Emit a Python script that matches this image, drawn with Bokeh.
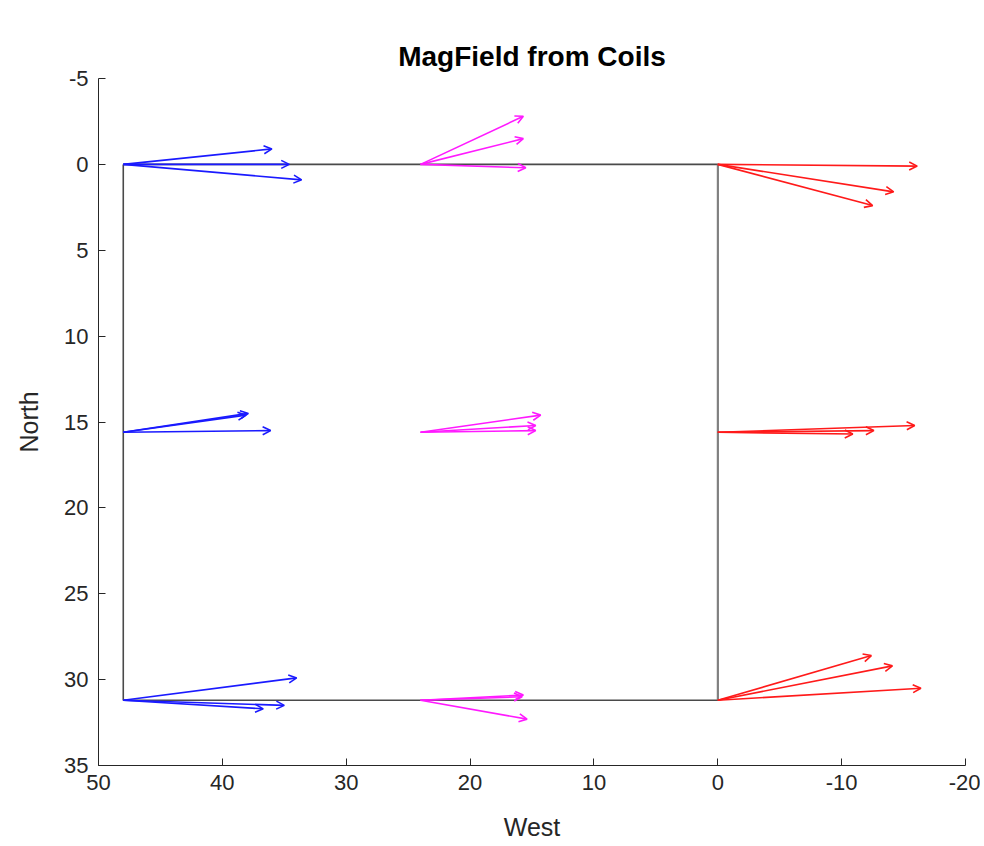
from bokeh.plotting import figure
from bokeh.models import Range1d, Arrow, OpenHead, ColumnDataSource, FixedTicker
from bokeh.embed import file_html
from bokeh.resources import INLINE

# ---- data ----
coil_x = [48, 24, 0]            # x of the three arrow origins per colour
row_y = [0, 15.6, 31.2]         # y of the three origin rows

blue_tip_x = [36.0, 34.6, 33.6, 37.9, 38.1, 36.1, 34.0, 35.0, 36.7]
blue_tip_y = [-0.9, 0.0, 0.9, 14.5, 14.6, 15.5, 29.9, 31.5, 31.7]
magenta_tip_x = [15.7, 15.7, 15.5, 14.3, 14.7, 14.7, 15.7, 15.8, 15.4]
magenta_tip_y = [-2.8, -1.5, 0.2, 14.6, 15.2, 15.5, 30.9, 31.0, 32.3]
red_tip_x = [-16.1, -14.2, -12.5, -15.9, -12.6, -10.9, -12.4, -14.1, -16.4]
red_tip_y = [0.1, 1.6, 2.4, 15.2, 15.5, 15.7, 28.6, 29.2, 30.5]

rect_x = [48, 0, 0, 48, 48]
rect_y = [0, 0, 31.2, 31.2, 0]
divider_x = [0, 0]
divider_y = [0, 31.2]

x_ticks = [50, 40, 30, 20, 10, 0, -10, -20]
y_ticks = [-5, 0, 5, 10, 15, 20, 25, 30, 35]

AXC = "#262626"
FONT = "Liberation Sans"

W, H = 980, 846
p = figure(width=W, height=H, output_backend="svg", toolbar_location=None,
           x_range=Range1d(50, -20), y_range=Range1d(35, -5),
           min_border_left=98, min_border_right=W - 965,
           min_border_top=78, min_border_bottom=H - 765,
           title="MagField from Coils")
p.title.align = "center"
p.title.text_font = FONT
p.title.text_font_size = "28px"
p.title.text_font_style = "bold"
p.title.text_color = "#000000"
p.title.standoff = 13

p.outline_line_color = None
p.xgrid.visible = False
p.ygrid.visible = False
p.background_fill_color = "white"
p.border_fill_color = "white"

for ax, ticks in ((p.xaxis[0], x_ticks), (p.yaxis[0], y_ticks)):
    ax.ticker = FixedTicker(ticks=ticks)
    ax.major_label_overrides = {t: str(t) for t in ticks}
    ax.major_tick_in = 7
    ax.major_tick_out = 0
    ax.minor_tick_line_color = None
    ax.axis_line_color = AXC
    ax.axis_line_width = 1
    ax.major_tick_line_color = AXC
    ax.major_label_text_font = FONT
    ax.major_label_text_font_size = "22px"
    ax.major_label_text_color = AXC
    ax.axis_label_text_font = FONT
    ax.axis_label_text_font_size = "25px"
    ax.axis_label_text_font_style = "normal"
    ax.axis_label_text_color = AXC

p.xaxis.axis_label = "West"
p.yaxis.axis_label = "North"
p.xaxis.major_label_standoff = 9
p.yaxis.major_label_standoff = 10
p.xaxis.axis_label_standoff = 20
p.yaxis.axis_label_standoff = 18

# rectangle and divider
p.line(rect_x, rect_y, line_color="#4a4a4a", line_width=1.6)
p.line(divider_x, divider_y, line_color="#808080", line_width=2)

def add_arrows(ox, tips_x, tips_y, color):
    n_per_row = len(tips_x) // len(row_y)
    x0 = [ox] * len(tips_x)
    y0 = [y for y in row_y for _ in range(n_per_row)]
    src = ColumnDataSource(dict(x0=x0, y0=y0, x1=tips_x, y1=tips_y))
    p.add_layout(Arrow(end=OpenHead(size=8, line_color=color, line_width=1.6),
                       x_start="x0", y_start="y0", x_end="x1", y_end="y1",
                       source=src, line_color=color, line_width=1.6))

add_arrows(coil_x[0], blue_tip_x, blue_tip_y, "#1a1aff")
add_arrows(coil_x[1], magenta_tip_x, magenta_tip_y, "#ff1aff")
add_arrows(coil_x[2], red_tip_x, red_tip_y, "#ff1a1a")

open("out.html", "w").write(file_html(p, INLINE))
